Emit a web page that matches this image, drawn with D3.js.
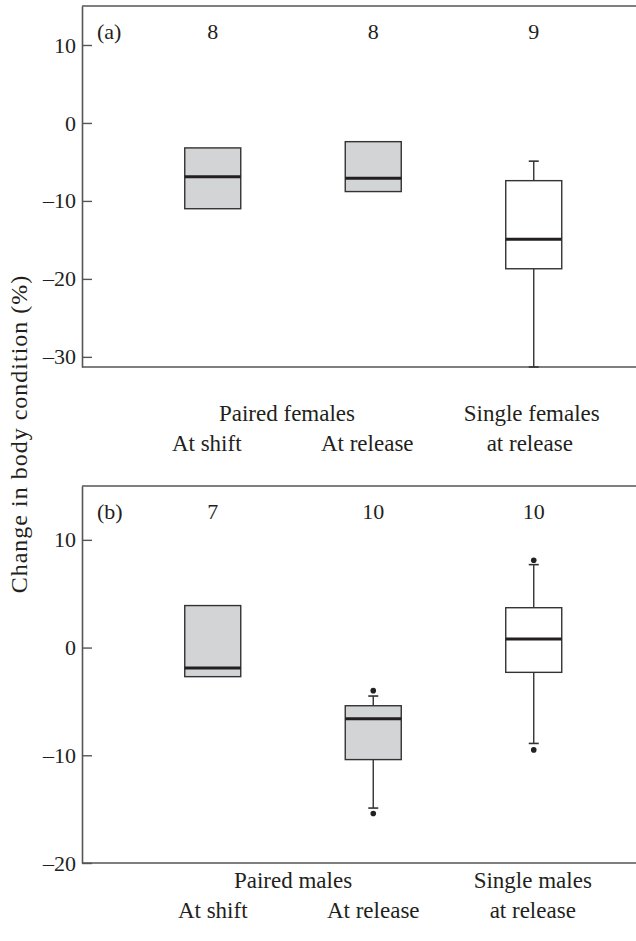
<!DOCTYPE html>
<head>
    <meta charset="utf-8">
    <script src="https://d3js.org/d3.v7.min.js"></script>
    <style>
        body { margin: 0; background: #fff; }
        text { font-family: "Liberation Serif", "DejaVu Serif", serif; fill: #231f20; }
    </style>
</head>
<body>
    <svg></svg>
    <script>
        // groups along the x axis (same order in both panels)
        var groups = ["shift", "release", "single"];
        var rowTwo = ["At shift", "At release", "at release"];
        var rowOne_a = ["Paired females", "Single females"];
        var rowOne_b = ["Paired males", "Single males"];
        var fills = ["#d3d4d6", "#d3d4d6", "#ffffff"];

        // panel (a) females
        var counts_a = [8, 8, 9];
        var q1_a = [-11.0, -8.8, -18.7];
        var med_a = [-6.9, -7.1, -14.9];
        var q3_a = [-3.2, -2.4, -7.4];
        var whiskLo_a = [null, null, -35];
        var whiskHi_a = [null, null, -4.9];
        var outliers_a = [[], [], []];
        var ticks_a = [10, 0, -10, -20, -30];

        // panel (b) males
        var counts_b = [7, 10, 10];
        var q1_b = [-2.7, -10.4, -2.3];
        var med_b = [-1.9, -6.6, 0.8];
        var q3_b = [3.9, -5.4, 3.7];
        var whiskLo_b = [null, -14.9, -8.9];
        var whiskHi_b = [null, -4.5, 7.7];
        var outliers_b = [[], [-4.0, -15.4], [8.1, -9.5]];
        var ticks_b = [10, 0, -10, -20];

        var width = 636, height = 941;
        var left = 82;
        var fs = 23;

        var svg = d3.select("svg")
            .attr("width", width)
            .attr("height", height);

        var x = d3.scaleBand()
            .domain(groups)
            .range([132.5, 614]);
        var boxW = 56;

        function panel(opts) {
            var y = d3.scaleLinear()
                .domain(opts.domain)
                .range([opts.bottom, opts.top])
                .clamp(true);

            var g = svg.append("g");

            // top frame line and bottom axis line
            g.append("line")
                .attr("x1", left).attr("x2", width)
                .attr("y1", opts.top).attr("y2", opts.top)
                .attr("stroke", "#555").attr("stroke-width", 1.6);
            g.append("line")
                .attr("x1", left).attr("x2", width)
                .attr("y1", opts.bottom).attr("y2", opts.bottom)
                .attr("stroke", "#555").attr("stroke-width", 1.6);

            // y axis, ticks pointing inward
            var ax = g.append("g")
                .attr("transform", "translate(" + left + ",0)")
                .call(d3.axisLeft(y)
                    .tickValues(opts.ticks)
                    .tickSizeInner(-10)
                    .tickSizeOuter(0)
                    .tickPadding(6)
                    .tickFormat(function (d) { return d < 0 ? "\u2013" + Math.abs(d) : d; }));
            ax.select(".domain").attr("stroke", "#555").attr("stroke-width", 1.6);
            ax.selectAll(".tick line").attr("stroke", "#555").attr("stroke-width", 1.4);
            ax.selectAll(".tick text")
                .attr("font-family", "Liberation Serif")
                .attr("font-size", 22)
                .attr("fill", "#231f20");

            // panel letter
            g.append("text")
                .attr("x", 97).attr("y", opts.top + 33)
                .attr("font-size", 22)
                .text(opts.letter);

            // sample sizes
            g.selectAll(".n")
                .data(opts.counts)
                .enter().append("text")
                .attr("x", function (d, i) { return x(groups[i]) + x.bandwidth() / 2; })
                .attr("y", opts.top + 33)
                .attr("text-anchor", "middle")
                .attr("font-size", 22)
                .text(function (d) { return d; });

            var boxes = g.selectAll(".box")
                .data(groups)
                .enter().append("g")
                .attr("transform", function (d) { return "translate(" + (x(d) + x.bandwidth() / 2) + ",0)"; });

            // whiskers and outliers
            boxes.each(function (d, i) {
                var b = d3.select(this);
                [[opts.whiskLo[i], opts.q1[i]], [opts.whiskHi[i], opts.q3[i]]].forEach(function (w) {
                    if (w[0] === null) return;
                    b.append("line")
                        .attr("x1", 0).attr("x2", 0)
                        .attr("y1", y(w[0])).attr("y2", y(w[1]))
                        .attr("stroke", "#333").attr("stroke-width", 1.4);
                    b.append("line")
                        .attr("x1", -5).attr("x2", 5)
                        .attr("y1", y(w[0])).attr("y2", y(w[0]))
                        .attr("stroke", "#333").attr("stroke-width", 1.6);
                });
                opts.outliers[i].forEach(function (o) {
                    b.append("circle")
                        .attr("cx", 0).attr("cy", y(o))
                        .attr("r", 2.8)
                        .attr("fill", "#222");
                });
            });

            boxes.append("rect")
                .attr("x", -boxW / 2)
                .attr("width", boxW)
                .attr("y", function (d, i) { return y(opts.q3[i]); })
                .attr("height", function (d, i) { return y(opts.q1[i]) - y(opts.q3[i]); })
                .attr("fill", function (d, i) { return fills[i]; })
                .attr("stroke", "#333")
                .attr("stroke-width", 1.4);

            boxes.append("line")
                .attr("x1", -boxW / 2).attr("x2", boxW / 2)
                .attr("y1", function (d, i) { return y(opts.med[i]); })
                .attr("y2", function (d, i) { return y(opts.med[i]); })
                .attr("stroke", "#231f20")
                .attr("stroke-width", 3);

            // category labels under the panel
            var mid01 = (x(groups[0]) + x(groups[1]) + x.bandwidth()) / 2;
            var c2 = x(groups[2]) + x.bandwidth() / 2;
            g.append("text").attr("x", mid01 + opts.shift1[0]).attr("y", opts.bottom + opts.row1)
                .attr("text-anchor", "middle").attr("font-size", fs).text(opts.rowOne[0]);
            g.append("text").attr("x", c2 + opts.shift1[1]).attr("y", opts.bottom + opts.row1)
                .attr("text-anchor", "middle").attr("font-size", fs).text(opts.rowOne[1]);
            g.selectAll(".cat")
                .data(rowTwo)
                .enter().append("text")
                .attr("x", function (d, i) { return x(groups[i]) + x.bandwidth() / 2 + opts.shift2[i]; })
                .attr("y", opts.bottom + opts.row2)
                .attr("text-anchor", "middle")
                .attr("font-size", fs)
                .text(function (d) { return d; });
        }

        panel({
            letter: "(a)", top: 6, bottom: 367, domain: [-31.3, 15], ticks: ticks_a,
            counts: counts_a, q1: q1_a, med: med_a, q3: q3_a,
            whiskLo: whiskLo_a, whiskHi: whiskHi_a, outliers: outliers_a,
            rowOne: rowOne_a, row1: 54, row2: 84, shift1: [-6, -2], shift2: [-6, -6, -4]
        });
        panel({
            letter: "(b)", top: 486, bottom: 863, domain: [-20, 15], ticks: ticks_b,
            counts: counts_b, q1: q1_b, med: med_b, q3: q3_b,
            whiskLo: whiskLo_b, whiskHi: whiskHi_b, outliers: outliers_b,
            rowOne: rowOne_b, row1: 25, row2: 55, shift1: [0, -1], shift2: [0, 0, -1]
        });

        // shared y axis title
        svg.append("text")
            .attr("transform", "translate(27,434) rotate(-90)")
            .attr("text-anchor", "middle")
            .attr("font-size", 24)
            .attr("letter-spacing", 1)
            .text("Change in body condition (%)");
    </script>
</body>
